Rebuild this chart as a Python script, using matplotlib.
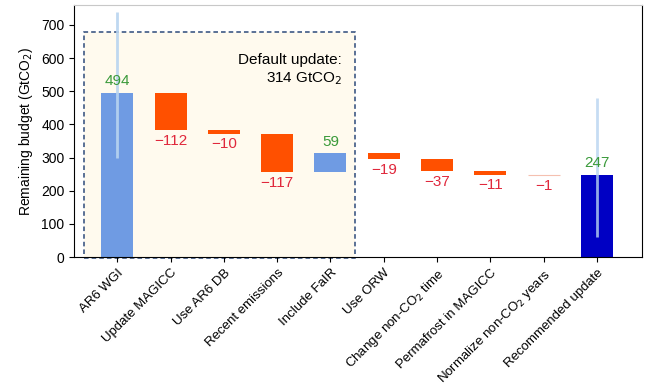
import numpy as np
import matplotlib.pyplot as plt

plt.rcParams['font.family'] = ['Liberation Sans', 'DejaVu Sans']

categories = ['AR6 WGI', 'Update MAGICC', 'Use AR6 DB', 'Recent emissions',
              'Include FaIR', 'Use ORW', 'Change non-CO$_2$ time',
              'Permafrost in MAGICC', 'Normalize non-CO$_2$ years',
              'Recommended update']
start_value = 494
changes = [-112, -10, -117, 59, -19, -37, -11, -1]
final_value = 247
start_range = (300, 740)
final_range = (60, 480)

light_blue = '#6f9be3'
orange = '#ff5000'
dark_blue = '#0000c4'
green = '#3a9a3a'
red = '#e0283c'

fig = plt.figure(figsize=(6.5, 3.9), dpi=100)
ax = fig.add_axes([0.114, 0.341, 0.874, 0.646])

x = np.arange(len(categories))
w = 0.6

# shaded box for default update
ax.add_patch(plt.Rectangle((-0.62, -4), 5.09, 683, facecolor='#fffaee',
                           edgecolor='#2d4a7a', linestyle=(0, (3, 2)),
                           linewidth=1.1, zorder=0, clip_on=False))

# first bar
ax.bar(x[0], start_value, width=w, color=light_blue, zorder=2)
ax.vlines(x[0], *start_range, color='#b8d4f0', linewidth=2, alpha=0.9, zorder=3)
ax.text(x[0], start_value + 15, str(start_value), color=green, ha='center',
        va='bottom', fontsize=11)

level = start_value
for i, c in enumerate(changes, start=1):
    bottom = level + min(c, 0)
    col = light_blue if c > 0 else orange
    if abs(c) < 2:
        ax.hlines(level, x[i] - w / 2, x[i] + w / 2, color='#f5c0b0', linewidth=0.8, zorder=2)
    else:
        ax.bar(x[i], abs(c), bottom=bottom, width=w, color=col, zorder=2)
    if c > 0:
        ax.text(x[i], level + c + 12, str(c), color=green, ha='center',
                va='bottom', fontsize=11)
    else:
        ax.text(x[i], bottom - 10, '\u2212' + str(-c), color=red, ha='center',
                va='top', fontsize=11)
    level += c

# recommended
ax.bar(x[-1], final_value, width=w, color=dark_blue, zorder=2)
ax.vlines(x[-1], *final_range, color='#b8d4f0', linewidth=2, alpha=0.8, zorder=3)
ax.text(x[-1], final_value + 15, str(final_value), color=green, ha='center',
        va='bottom', fontsize=11)

ax.text(4.22, 615, 'Default update:\n314 GtCO$_2$', ha='right', va='top',
        fontsize=11, linespacing=1.3)

ax.set_xlim(-0.81, 9.85)
ax.set_ylim(0, 760)
ax.set_yticks(range(0, 800, 100))
ax.set_xticks(x)
ax.set_xticklabels(categories, rotation=45, ha='right', rotation_mode='anchor',
                   fontsize=9.5)
ax.tick_params(axis='y', labelsize=10)
ax.set_ylabel('Remaining budget (GtCO$_2$)', fontsize=10)
ax.spines['top'].set_color('#c8c8c8')

fig.savefig('out.png', dpi=100)
